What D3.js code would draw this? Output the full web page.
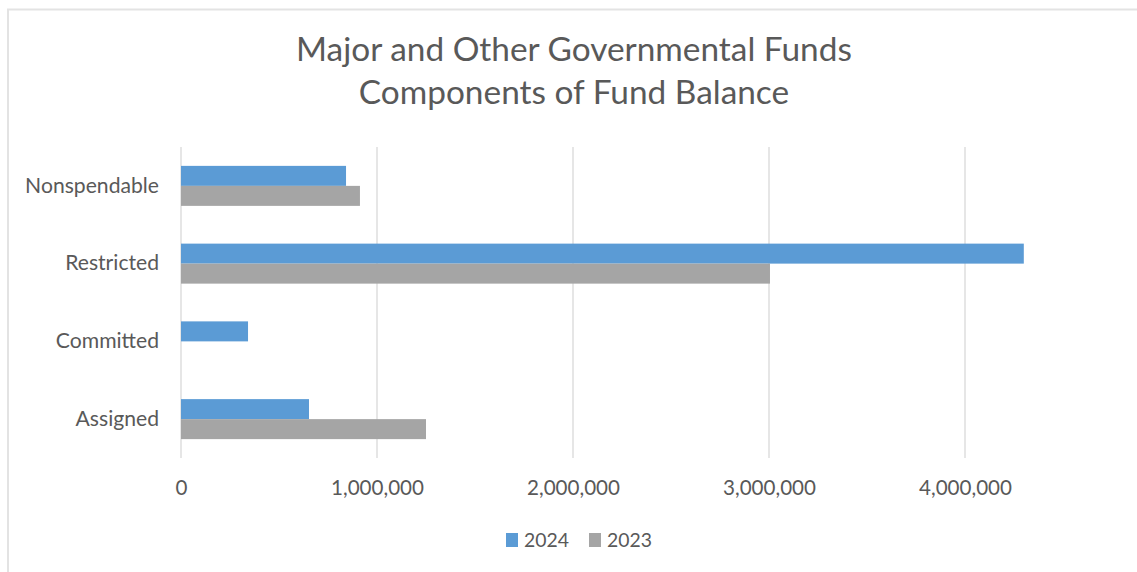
<html>
<head>
<meta charset="utf-8">
<script src="https://cdn.jsdelivr.net/npm/d3@7"></script>
<style>
  body { margin: 0; padding: 0; background: #fff; }
  text { font-family: Lato, "Open Sans", sans-serif; fill: #595959; }
</style>
</head>
<body>
<div id="chart"></div>
<script>
const categories = ['Nonspendable', 'Restricted', 'Committed', 'Assigned'];
const seriesNames = ['2024', '2023'];
const values2024 = [842000, 4300000, 342000, 653000];
const values2023 = [913000, 3005000, 0, 1250000];
const tickValues = [0, 1000000, 2000000, 3000000, 4000000];
const titleLines = ['Major and Other Governmental Funds', 'Components of Fund Balance'];

const width = 1137, height = 572;
const colors = { '2024': '#5b9bd5', '2023': '#a5a5a5' };

const svg = d3.select('#chart').append('svg').attr('width', width).attr('height', height);

// chart area frame (cropped on right and bottom)
svg.append('path')
  .attr('d', 'M8,' + height + ' L8,9.5 L' + width + ',9.5')
  .attr('fill', 'none').attr('stroke', '#e3e3e3').attr('stroke-width', 2);

// scale a text's font so it comes out at the wanted width
function fitWidth(sel, target) {
  let fs = parseFloat(sel.attr('font-size'));
  const w = sel.node().getComputedTextLength();
  sel.attr('font-size', (fs * target / w).toFixed(2));
  return sel.attr('font-size');
}

const x = d3.scaleLinear().domain([0, 5000000]).range([181, 1161]);
const y = d3.scaleBand().domain(categories).range([147, 458])
  .paddingInner(0.4855).paddingOuter(0.24275);
const ySub = d3.scaleBand().domain(seriesNames).range([0, y.bandwidth()]);

// gridlines
svg.append('g').selectAll('line').data(tickValues).enter().append('line')
  .attr('x1', d => x(d)).attr('x2', d => x(d))
  .attr('y1', 147).attr('y2', 458)
  .attr('stroke', '#d9d9d9').attr('stroke-width', 1.3);

// bars
const rows = categories.map((c, i) => ({ cat: c, vals: [values2024[i], values2023[i]] }));
const grp = svg.append('g').selectAll('g').data(rows).enter().append('g')
  .attr('transform', d => 'translate(0,' + y(d.cat) + ')');
grp.selectAll('rect')
  .data(d => d.vals.map((v, j) => ({ key: seriesNames[j], v: v })))
  .enter().append('rect')
  .attr('x', x(0))
  .attr('y', d => ySub(d.key))
  .attr('width', d => x(d.v) - x(0))
  .attr('height', ySub.bandwidth())
  .attr('fill', d => colors[d.key]);

// axis labels
const fmt = d3.format(',');
const xAxis = d3.axisBottom(x).tickValues(tickValues).tickFormat(fmt).tickSize(0).tickPadding(0);
const gx = svg.append('g').attr('transform', 'translate(0,482)').call(xAxis);
gx.select('.domain').remove();
gx.selectAll('text').attr('font-size', 17).attr('font-family', 'Lato, sans-serif')
  .attr('fill', '#595959').attr('dy', '0.36em').attr('y', 6);
const tickSize = fitWidth(gx.selectAll('text').filter(d => d === 1000000), 93);
gx.selectAll('text').attr('font-size', tickSize);

const yAxis = d3.axisLeft(y).tickSize(0).tickPadding(0);
const gy = svg.append('g').attr('transform', 'translate(159,0)').call(yAxis);
gy.select('.domain').remove();
gy.selectAll('text').attr('font-size', 18).attr('font-family', 'Lato, sans-serif')
  .attr('fill', '#595959');
const catSize = fitWidth(gy.selectAll('text').filter(d => d === 'Nonspendable'), 134);
gy.selectAll('text').attr('font-size', catSize);

// title
const title = svg.append('g').selectAll('text').data(titleLines).enter().append('text')
  .attr('x', 574).attr('y', (d, i) => 61 + i * 43)
  .attr('text-anchor', 'middle').attr('font-size', 28).text(d => d);
const titleSize = fitWidth(title.filter((d, i) => i === 0), 556);
title.attr('font-size', titleSize);

// legend
const legend = svg.append('g').selectAll('g').data(seriesNames).enter().append('g')
  .attr('transform', (d, i) => 'translate(' + (506 + i * 83) + ',533)');
legend.append('rect').attr('width', 12).attr('height', 14).attr('fill', d => colors[d]);
const legText = legend.append('text').attr('x', 18).attr('y', 7).attr('dy', '0.36em')
  .attr('font-size', 17).text(d => d);
const legSize = fitWidth(legText.filter(d => d === '2024'), 45);
legText.attr('font-size', legSize);
</script>
</body>
</html>
